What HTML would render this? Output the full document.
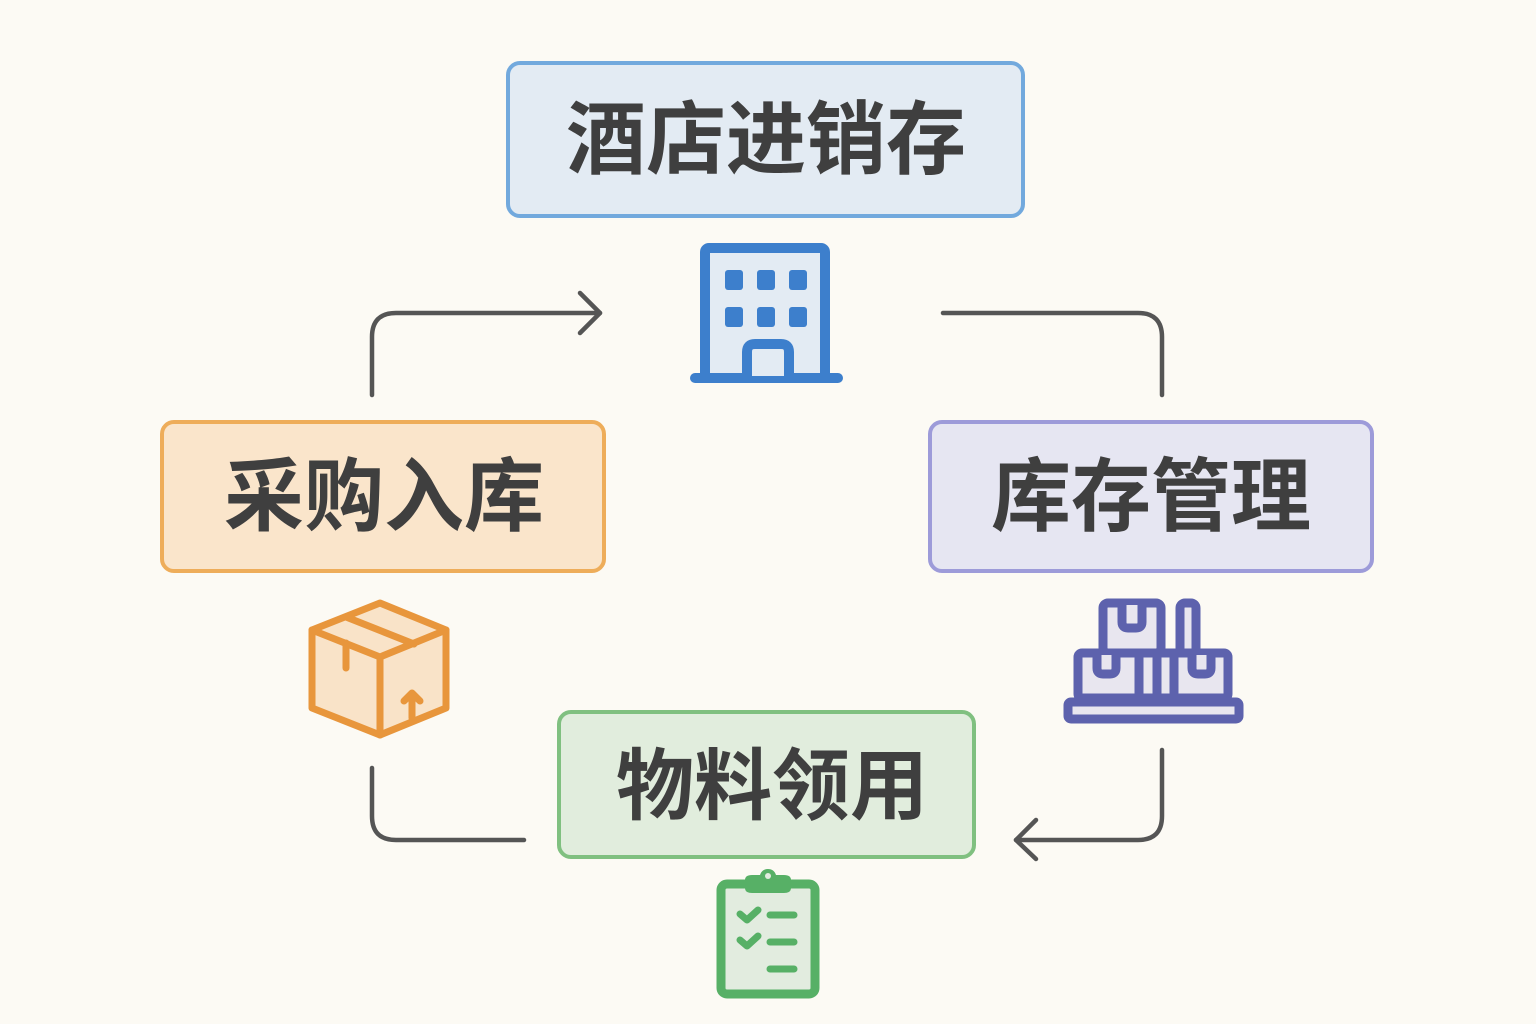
<!DOCTYPE html>
<html><head><meta charset="utf-8"><style>
html,body{margin:0;padding:0;background:#fcfaf4;}
svg{display:block}
text{font-family:"Liberation Sans","Noto Sans CJK SC",sans-serif;font-weight:bold;fill:#3f3f3f;text-anchor:middle;dominant-baseline:central}
</style></head><body>
<svg width="1536" height="1024" viewBox="0 0 1536 1024" xmlns="http://www.w3.org/2000/svg">
<rect width="1536" height="1024" fill="#fcfaf4"/>
<rect x="508" y="63" width="515" height="153" rx="12" fill="#e3ebf3" stroke="#72a9dd" stroke-width="4"/>
<text x="766" y="140" font-size="80">酒店进销存</text>
<rect x="162" y="422" width="442" height="149" rx="12" fill="#fae5cb" stroke="#eead5a" stroke-width="4"/>
<text x="384" y="497" font-size="80">采购入库</text>
<rect x="930" y="422" width="442" height="149" rx="12" fill="#e6e6f2" stroke="#9d9bd9" stroke-width="4"/>
<text x="1151" y="497" font-size="80">库存管理</text>
<rect x="559" y="712" width="415" height="145" rx="12" fill="#e1eddd" stroke="#80c080" stroke-width="4"/>
<text x="772" y="786" font-size="78">物料领用</text>
<g fill="none" stroke="#555" stroke-width="4.5" stroke-linecap="round" stroke-linejoin="round">
<path d="M372 395 V337 Q372 313 396 313 H600"/>
<path d="M580 293 L600 313 L580 333"/>
<path d="M943 313 H1138 Q1162 313 1162 337 V395"/>
<path d="M1162 750 V816 Q1162 840 1138 840 H1016"/>
<path d="M1036 820 L1016 840 L1036 859"/>
<path d="M372 768 V816 Q372 840 396 840 H524"/>
</g>
<g>
<rect x="705" y="248" width="120" height="130" rx="4" fill="#e3ebf3" stroke="#3d7fcc" stroke-width="10"/>
<rect x="690" y="373" width="153" height="10" rx="5" fill="#3d7fcc"/>
<g fill="#3d7fcc">
<rect x="725" y="270" width="18" height="20" rx="3"/><rect x="757" y="270" width="18" height="20" rx="3"/><rect x="789" y="270" width="18" height="20" rx="3"/>
<rect x="725" y="307" width="18" height="20" rx="3"/><rect x="757" y="307" width="18" height="20" rx="3"/><rect x="789" y="307" width="18" height="20" rx="3"/>
</g>
<path d="M747 376 V352 Q747 344 755 344 H781 Q789 344 789 352 V376" fill="#e3ebf3" stroke="#3d7fcc" stroke-width="10"/>
</g>
<g fill="none" stroke="#e8963c" stroke-width="7" stroke-linejoin="round" stroke-linecap="round">
<path d="M380 603 L446 630 L446 708 L380 735 L312 708 L312 630 Z" fill="#f9e3c8"/>
<path d="M312 630 L380 657 L446 630"/>
<path d="M380 657 V735"/>
<path d="M346 617 L414 644"/>
<path d="M346 643 V668"/>
<path d="M412 718 V694 M404 701 L412 693 L420 701"/>
</g>
<g fill="#e8e6ef" stroke="#5d62ad" stroke-width="9" stroke-linejoin="round">
<rect x="1103" y="603" width="58" height="50" rx="5"/>
<rect x="1180" y="603" width="16" height="90" rx="5"/>
<rect x="1078" y="653" width="150" height="45" rx="4"/>
<rect x="1068" y="702" width="171" height="17" rx="3"/>
<path d="M1122 605 V622 Q1122 628 1128 628 H1136 Q1142 628 1142 622 V605"/>
<path d="M1097 655 V668 Q1097 674 1103 674 H1110 Q1116 674 1116 668 V655"/>
<path d="M1192 655 V668 Q1192 674 1198 674 H1205 Q1211 674 1211 668 V655"/>
<path d="M1139 655 V698 M1157 655 V698 M1174 655 V698"/>
</g>
<g>
<rect x="721" y="884" width="94" height="110" rx="6" fill="#e2ecdf" stroke="#57b066" stroke-width="9"/>
<path d="M745 884 V880 Q745 875 752 875 H760 Q762 869 768 869 Q774 869 776 875 H784 Q791 875 791 880 V888 Q791 893 784 893 H752 Q745 893 745 888 Z" fill="#57b066"/>
<circle cx="768" cy="876" r="3" fill="#e2ecdf"/>
<g fill="none" stroke="#57b066" stroke-width="7" stroke-linecap="round" stroke-linejoin="round">
<path d="M740 914 L747 920 L758 910"/><path d="M770 915 H794"/>
<path d="M740 940 L747 946 L758 936"/><path d="M770 942 H794"/>
<path d="M770 969 H794"/>
</g>
</g>
</svg>
</body></html>
